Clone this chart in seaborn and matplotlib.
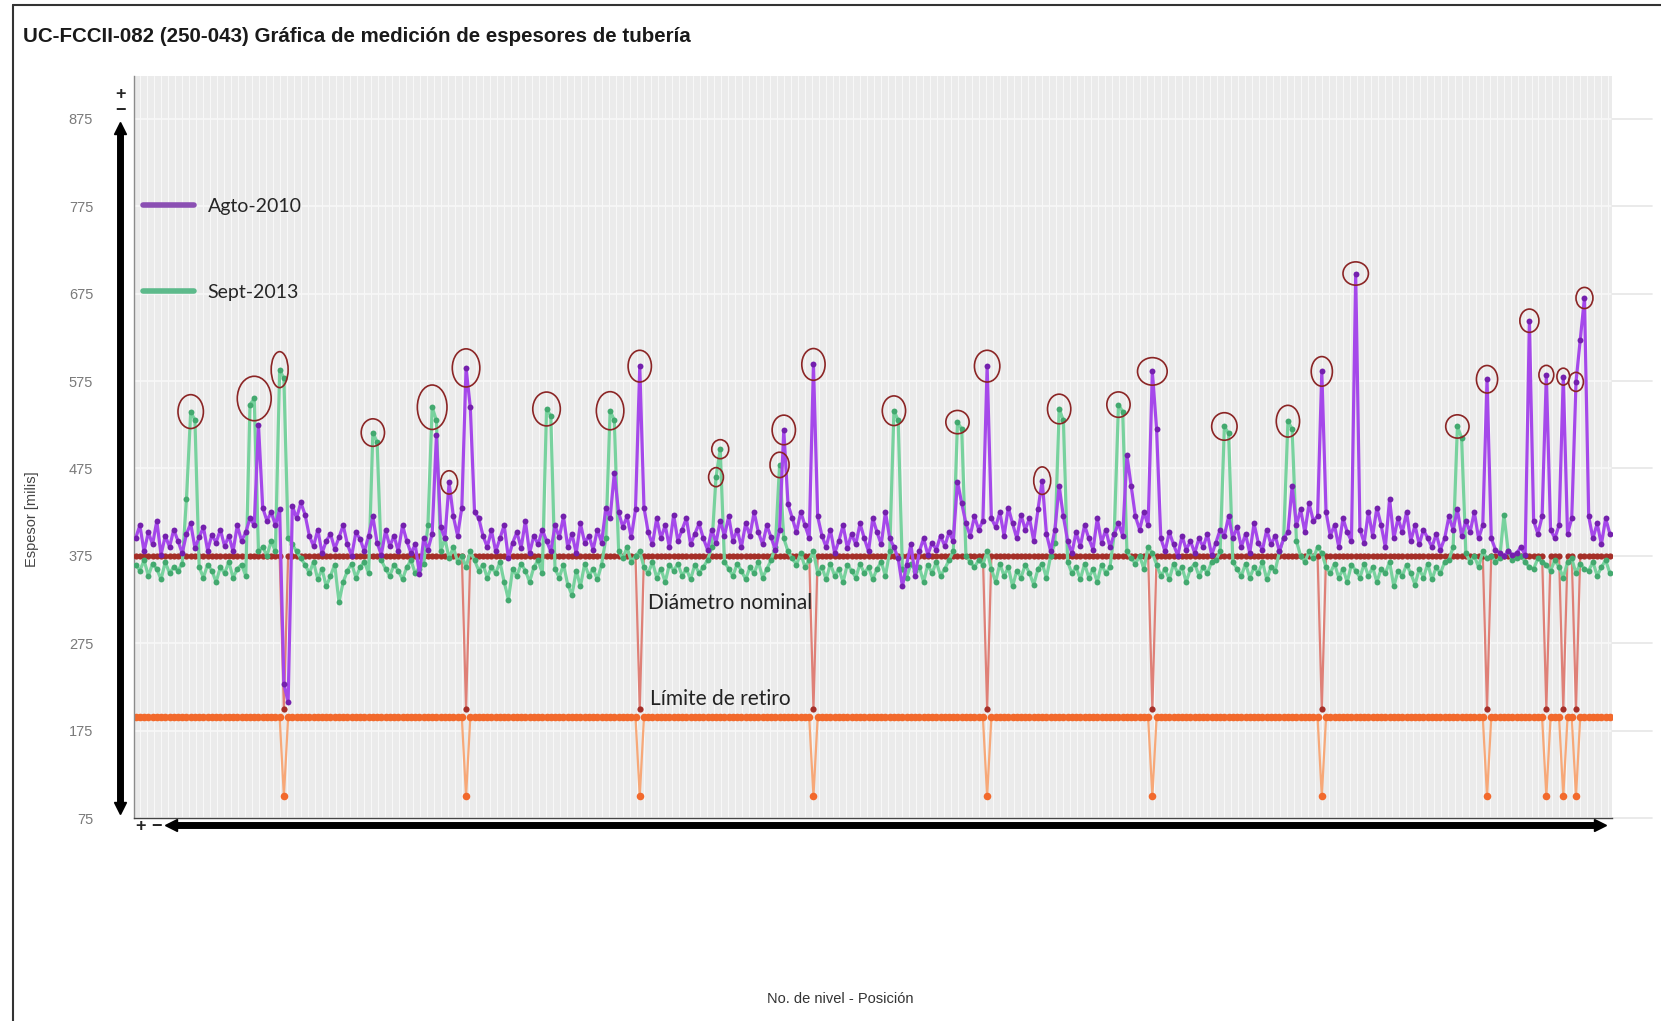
import numpy as np
import pandas as pd
import matplotlib.pyplot as plt
import seaborn as sns
from matplotlib.lines import Line2D
from matplotlib.patches import Ellipse

agto_2010 = [
    395, 410, 380, 402, 388, 415, 376, 398, 385, 405,
    392, 378, 400, 412, 384, 396, 408, 381, 399, 390,
    405, 386, 398, 380, 410, 392, 402, 418, 410, 525,
    430, 415, 425, 410, 428, 228, 208, 432, 418, 436,
    422, 398, 386, 405, 378, 392, 400, 383, 396, 410,
    388, 375, 402, 394, 380, 398, 420, 390, 376, 404,
    386, 398, 380, 410, 392, 378, 388, 354, 395, 382,
    400, 513, 408, 395, 459, 420, 398, 430, 590, 545,
    425, 418, 398, 385, 404, 380, 395, 410, 372, 390,
    402, 384, 415, 378, 398, 388, 405, 392, 380, 410,
    396, 420, 385, 400, 378, 412, 390, 398, 382, 405,
    390, 430, 418, 470, 425, 408, 420, 396, 428, 592,
    430, 402, 388, 418, 395, 410, 385, 422, 392, 405,
    418, 388, 400, 412, 395, 382, 405, 390, 415, 398,
    420, 392, 405, 385, 412, 398, 425, 402, 388, 410,
    396, 382, 405, 519, 434, 418, 402, 425, 410, 395,
    594, 420, 398, 385, 405, 378, 392, 410, 384, 400,
    388, 412, 395, 380, 418, 402, 388, 425, 395, 385,
    372, 340, 365, 388, 352, 380, 395, 376, 390, 382,
    398, 386, 402, 392, 460, 435, 412, 398, 420, 405,
    415, 592, 418, 408, 425, 398, 430, 412, 395, 422,
    405, 418, 392, 428, 461, 400, 380, 405, 455, 420,
    392, 378, 402, 386, 410, 395, 382, 418, 390, 405,
    385, 400, 412, 398, 490, 455, 420, 405, 425, 410,
    586, 520, 395, 380, 402, 388, 375, 398, 382, 392,
    378, 395, 385, 400, 376, 390, 405, 398, 420, 395,
    408, 385, 400, 378, 412, 390, 382, 405, 388, 398,
    380, 395, 402, 455, 410, 428, 402, 435, 415, 420,
    586, 425, 398, 410, 385, 418, 402, 392, 698, 405,
    390, 425, 398, 430, 410, 385, 440, 395, 418, 402,
    425, 392, 410, 388, 405, 395, 385, 400, 382, 395,
    420, 405, 428, 398, 415, 402, 425, 395, 410, 577,
    395, 382, 378, 375, 380, 376, 378, 385, 376, 644,
    415, 400, 420, 582, 405, 395, 410, 580, 400, 418,
    574, 622, 670, 420, 395, 412, 388, 418, 400,
]
sept_2013 = [
    365, 358, 370, 352, 366, 360, 348, 368, 355, 362,
    358, 366, 440, 540, 530, 362, 350, 365, 358, 345,
    362, 355, 368, 350, 360, 365, 352, 548, 555, 380,
    385, 375, 392, 380, 588, 578, 395, 388, 380, 372,
    365, 355, 368, 348, 360, 340, 352, 365, 322, 345,
    358, 366, 350, 362, 368, 355, 516, 505, 370, 360,
    352, 365, 358, 348, 362, 370, 355, 360, 366, 410,
    545, 530, 380, 395, 372, 385, 368, 375, 362, 380,
    370, 358, 365, 350, 362, 355, 368, 345, 325, 360,
    352, 366, 358, 345, 362, 370, 355, 543, 535, 360,
    350, 365, 342, 330, 358, 340, 366, 352, 360, 348,
    365, 395, 541, 530, 380, 372, 385, 368, 375, 380,
    362, 355, 368, 350, 360, 345, 365, 358, 366, 352,
    360, 348, 365, 355, 362, 370, 385, 465, 497, 368,
    360, 352, 366, 358, 348, 362, 355, 368, 350, 360,
    370, 385, 479, 395, 380, 372, 365, 378, 362, 370,
    380, 355, 362, 348, 366, 352, 360, 345, 365, 358,
    350, 366, 355, 362, 348, 360, 368, 352, 380, 541,
    530, 360, 350, 366, 358, 362, 345, 365, 355, 368,
    352, 360, 370, 380, 528, 520, 375, 368, 362, 370,
    365, 380, 360, 345, 366, 352, 362, 340, 358, 350,
    365, 355, 342, 360, 366, 350, 375, 390, 543, 530,
    368, 355, 362, 348, 366, 350, 360, 345, 365, 355,
    362, 400, 548, 540, 380, 372, 366, 375, 360, 385,
    378, 365, 352, 360, 348, 366, 355, 362, 345, 360,
    366, 352, 362, 355, 368, 370, 380, 523, 515, 368,
    360, 352, 366, 350, 362, 355, 368, 348, 362, 358,
    380, 395, 529, 520, 392, 375, 368, 380, 372, 385,
    378, 362, 355, 366, 350, 360, 345, 365, 358, 350,
    366, 352, 362, 345, 360, 355, 368, 340, 358, 352,
    365, 355, 342, 360, 350, 366, 348, 362, 355, 368,
    370, 385, 523, 510, 378, 368, 375, 362, 380, 372,
    375, 368, 372, 422, 380, 370, 372, 375, 368, 362,
    360, 372, 368, 365, 358, 370, 362, 350, 368, 372,
    355, 366, 360, 358, 368, 352, 362, 370, 355,
]
# posiciones donde el diametro nominal y el limite de retiro caen
caidas = [35, 78, 119, 160, 201, 240, 280, 319, 333, 337, 340]
nominal_valor, nominal_caida = 375, 200
limite_valor, limite_caida = 190, 100
y_ticks = [75, 175, 275, 375, 475, 575, 675, 775, 875]
series_names = ['Agto-2010', 'Sept-2013']

# puntos marcados con circulo: (serie, posicion, ancho px, alto px)
circulos = [
    ('Sept-2013', 13, 24, 32), ('Sept-2013', 28, 32, 42), ('Sept-2013', 34, 16, 34),
    ('Sept-2013', 56, 22, 26), ('Sept-2013', 70, 28, 42), ('Agto-2010', 74, 16, 22),
    ('Agto-2010', 78, 26, 36), ('Sept-2013', 97, 26, 32), ('Sept-2013', 112, 26, 36),
    ('Agto-2010', 119, 22, 30), ('Sept-2013', 138, 16, 18), ('Sept-2013', 137, 14, 18),
    ('Sept-2013', 152, 18, 24), ('Agto-2010', 153, 22, 28), ('Agto-2010', 160, 22, 30),
    ('Sept-2013', 179, 22, 28), ('Sept-2013', 194, 22, 22), ('Agto-2010', 201, 24, 30),
    ('Agto-2010', 214, 16, 26), ('Sept-2013', 218, 22, 28), ('Sept-2013', 232, 22, 24),
    ('Agto-2010', 240, 28, 26), ('Sept-2013', 257, 24, 26), ('Sept-2013', 272, 22, 30),
    ('Agto-2010', 280, 20, 28), ('Agto-2010', 288, 24, 22), ('Sept-2013', 312, 22, 22),
    ('Agto-2010', 319, 20, 26), ('Agto-2010', 329, 18, 22), ('Agto-2010', 333, 14, 18),
    ('Agto-2010', 337, 12, 16), ('Agto-2010', 340, 14, 18), ('Agto-2010', 342, 16, 20),
]

pos = np.arange(len(agto_2010))
df = pd.DataFrame({
    'pos': pos,
    'Agto-2010': agto_2010,
    'Sept-2013': sept_2013,
    'nominal': np.where(np.isin(pos, caidas), nominal_caida, nominal_valor),
    'limite': np.where(np.isin(pos, caidas), limite_caida, limite_valor),
})

sns.set_style('white')
plt.rcParams['font.family'] = ['Liberation Sans', 'DejaVu Sans']

W, H = 1661, 1021
fig = plt.figure(figsize=(W / 100, H / 100), dpi=100)
ax = fig.add_axes([133.5 / W, 1 - 818 / H, (1612 - 133.5) / W, (818 - 76) / H])
ax.set_facecolor('#ebebeb')

# (columna, color linea, color marcador, grosor, tamano marcador, zorder)
estilos = [
    ('limite', '#f7a878', '#f2692c', 1.6, 30, 2),
    ('nominal', '#df8077', '#a52f28', 1.6, 20, 2.5),
    ('Sept-2013', '#78d29e', '#43a96f', 2.3, 18, 3),
    ('Agto-2010', '#a548ea', '#7420ad', 2.3, 18, 4),
]
for col, c_line, c_mark, lw, s, z in estilos:
    sns.lineplot(data=df, x='pos', y=col, color=c_line, lw=lw, ax=ax, zorder=z)
    sns.scatterplot(data=df, x='pos', y=col, color=c_mark, s=s, linewidth=0,
                    ax=ax, zorder=z + 0.1)

for serie, i, w, h in circulos:
    ax.add_patch(Ellipse((i, df.loc[i, serie]), w / 4, h / 0.826, fill=False,
                         edgecolor='#8b2525', lw=1.2, zorder=6))

ax.text(121, 321, 'Diámetro nominal', family='Lato', fontsize=15, color='#222222',
        va='center', zorder=7)
ax.text(121.5, 211, 'Límite de retiro', family='Lato', fontsize=15, color='#222222',
        va='center', zorder=7)

ax.set_xlim(-0.5, len(pos) - 0.5)
ax.set_ylim(75, 924)
ax.set_yticks(y_ticks)
ax.set_xticks(np.arange(-0.5, len(pos), 1.65))
ax.tick_params(axis='x', length=0, labelbottom=False)
ax.tick_params(axis='y', length=0, pad=29, labelsize=10.5, labelcolor='#7a7a7a')
ax.grid(axis='x', color='#f8f8f8', lw=0.8)
ax.grid(axis='y', color='#f7f7f7', lw=1.3)
ax.set_xlabel('')
ax.set_ylabel('')
for t in y_ticks:
    ax.plot([1.0, 1.027], [t, t], transform=ax.get_yaxis_transform(), color='#e6e6e6',
            lw=1.2, clip_on=False)
for side in ['top', 'right']:
    ax.spines[side].set_visible(False)
ax.spines['left'].set_color('#8c8c8c')
ax.spines['bottom'].set_color('#444444')
ax.spines['left'].set_linewidth(1)
ax.spines['bottom'].set_linewidth(1)

handles = [Line2D([], [], color='#8b4fb3', lw=4), Line2D([], [], color='#5dba8b', lw=4)]
ax.legend(handles, series_names, loc='upper left', bbox_to_anchor=(0.0064, 0.836),
          frameon=False, handlelength=2.6, handletextpad=0.72, labelspacing=3.55,
          borderaxespad=0, borderpad=0, prop={'family': 'Lato', 'size': 14})


def fx(x):
    return x / W


def fy(y):
    return 1 - y / H


# marco exterior
fig.add_artist(Line2D([fx(13), 1], [fy(5), fy(5)], color='#333333', lw=1.5))
fig.add_artist(Line2D([fx(13), fx(13)], [fy(5), 0], color='#333333', lw=1.5))

# barras de desplazamiento (zoom) del visor original
fig.add_artist(Line2D([fx(120), fx(120)], [fy(134), fy(803)], color='black', lw=5))
fig.add_artist(Line2D([fx(120)], [fy(128)], marker='^', ms=8, color='black'))
fig.add_artist(Line2D([fx(120)], [fy(808)], marker='v', ms=8, color='black'))
fig.add_artist(Line2D([fx(176), fx(1594)], [fy(825), fy(825)], color='black', lw=5))
fig.add_artist(Line2D([fx(171)], [fy(825)], marker='<', ms=8, color='black'))
fig.add_artist(Line2D([fx(1600)], [fy(825)], marker='>', ms=8, color='black'))
fig.text(fx(120), fy(95), '+', ha='center', va='center', fontsize=13, weight='bold')
fig.text(fx(120), fy(111), '−', ha='center', va='center', fontsize=13, weight='bold')
fig.text(fx(141), fy(826), '+', ha='center', va='center', fontsize=13, weight='bold')
fig.text(fx(157), fy(826), '−', ha='center', va='center', fontsize=13, weight='bold')

fig.text(fx(23), fy(37), 'UC-FCCII-082 (250-043) Gráfica de medición de espesores de tubería',
         family='Liberation Sans', fontsize=14.8, weight='bold', color='#1a1a1a',
         va='center')
fig.text(fx(32), fy(519), 'Espesor [milis]', rotation=90, ha='center', va='center',
         fontsize=10.5, color='#444444')
fig.text(fx(840), fy(999), 'No. de nivel - Posición', ha='center', va='center',
         fontsize=10.5, color='#333333')

fig.savefig('out.png', dpi=100)
